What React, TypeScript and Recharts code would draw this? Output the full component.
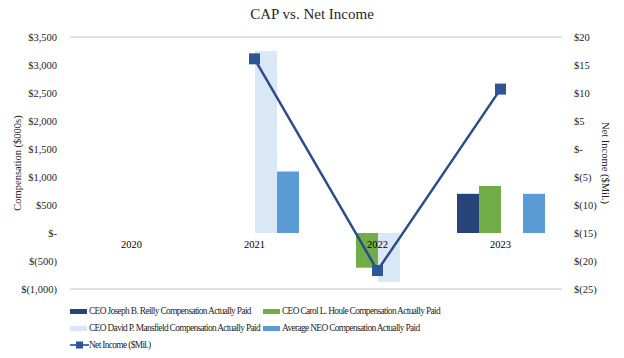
import React from 'react'
import { Bar, ComposedChart, Line, CartesianGrid, XAxis, YAxis, Label, LabelList } from 'recharts'

const years = ['2020', '2021', '2022', '2023']
const reillyCap = [null, null, null, 700]
const houleCap = [null, null, -620, 840]
const mansfieldCap = [null, 3250, -870, null]
const avgNeoCap = [null, 1100, null, 700]
const netIncome = [null, 16.1, -21.7, 10.7]

const compTicks = [-1000, -500, 0, 500, 1000, 1500, 2000, 2500, 3000, 3500]
const incomeTicks = [-25, -20, -15, -10, -5, 0, 5, 10, 15, 20]

const data = years.map((year, i) => ({
  year,
  reilly: reillyCap[i],
  houle: houleCap[i],
  mansfield: mansfieldCap[i],
  avgNeo: avgNeoCap[i],
  netIncome: netIncome[i],
}))

const W = 624
const H = 358
const TOP = 37
const BOTTOM = 69

const FONT = 'Liberation Serif, Times New Roman, serif'
const INK = '#262626'

const money = (v: number, sep = true) => {
  if (v === 0) return '$-'
  const s = sep ? Math.abs(v).toLocaleString('en-US') : String(Math.abs(v))
  return v < 0 ? `$(${s})` : `$${s}`
}

const SquareDot = ({ cx, cy, value }: any) => {
  if (value == null || cx == null) return null
  return <rect x={cx - 5.5} y={cy - 5.5} width={11} height={11} fill="#2F5597" />
}

const legendItems = [
  { label: 'CEO Joseph B. Reilly Compensation Actually Paid', color: '#264478', kind: 'bar' },
  { label: 'CEO Carol L. Houle Compensation Actually Paid', color: '#70AD47', kind: 'bar' },
  { label: 'CEO David P. Mansfield Compensation Actually Paid', color: '#DAE7F6', kind: 'bar' },
  { label: 'Average NEO Compensation Actually Paid', color: '#5B9BD5', kind: 'bar' },
  { label: 'Net Income ($Mil.)', color: '#2F4B8C', kind: 'line' },
]

function ChartLegend() {
  return (
    <div style={{ position: 'absolute', left: 70, top: 304, width: 480, display: 'flex', flexWrap: 'wrap', rowGap: 3, fontFamily: FONT, fontSize: 9.4, color: INK }}>
      {legendItems.map((item, i) => (
        <div key={item.label} style={{ display: 'flex', alignItems: 'center', height: 14, width: i % 2 === 0 ? 193 : 'auto' }}>
          {item.kind === 'bar' ? (
            <span style={{ display: 'inline-block', flexShrink: 0, width: 17, height: 5, background: item.color, marginRight: 2 }} />
          ) : (
            <svg width={19} height={8} style={{ flexShrink: 0 }}>
              <line x1={0} y1={4} x2={19} y2={4} stroke="#4472C4" strokeWidth={2} />
              <rect x={6} y={0.5} width={7} height={7} fill="#2F5597" />
            </svg>
          )}
          <span style={{ whiteSpace: 'nowrap', letterSpacing: -0.65 }}>{item.label}</span>
        </div>
      ))}
    </div>
  )
}

export default function App() {
  return (
    <div style={{ position: 'absolute', left: 0, top: 0, width: W, height: H, background: '#fff', fontFamily: FONT }}>
      <div style={{ position: 'absolute', left: 0, top: 6, width: W, textAlign: 'center', fontSize: 15, color: INK }}>
        CAP vs. Net Income
      </div>
      <ComposedChart width={W} height={H} data={data} barSize={22} barGap={0}
        margin={{ top: TOP, right: 0, bottom: BOTTOM, left: 0 }}
        style={{ position: 'absolute', left: 0, top: 0 }}>
        <CartesianGrid vertical={false} stroke="#d9d9d9" strokeWidth={1.5} />
        <XAxis dataKey="year" height={0} axisLine={false} tickLine={false} tick={false} />
        <YAxis yAxisId="comp" width={70} domain={[-1000, 3500]} ticks={compTicks} interval={0}
          axisLine={false} tickLine={false} tickFormatter={(v: number) => money(v)}
          tick={{ fontSize: 10.5, fill: INK, fontFamily: FONT }} tickMargin={7}>
          <Label value="Compensation ($000s)" angle={-90} position="insideLeft" offset={17}
            style={{ fontSize: 10.5, fill: INK, fontFamily: FONT, textAnchor: 'middle' }} />
        </YAxis>
        <YAxis yAxisId="income" orientation="right" width={62} domain={[-25, 20]} ticks={incomeTicks} interval={0}
          axisLine={false} tickLine={false} tickFormatter={(v: number) => money(v, false)}
          tick={{ fontSize: 10.5, fill: INK, fontFamily: FONT }} tickMargin={6}>
          <Label value="Net Income ($Mil.)" angle={90} position="insideRight" offset={18}
            style={{ fontSize: 10.5, fill: INK, fontFamily: FONT, textAnchor: 'middle' }} />
        </YAxis>
        <Bar yAxisId="comp" dataKey="reilly" fill="#264478" isAnimationActive={false} />
        <Bar yAxisId="comp" dataKey="houle" fill="#70AD47" isAnimationActive={false} />
        <Bar yAxisId="comp" dataKey="mansfield" fill="#DAE7F6" isAnimationActive={false} />
        <Bar yAxisId="comp" dataKey="avgNeo" fill="#5B9BD5" isAnimationActive={false} />
        {/* year labels ride on the zero line, drawn above the bars */}
        <Line yAxisId="comp" dataKey={() => 0} stroke="none" dot={false} activeDot={false}
          legendType="none" isAnimationActive={false}>
          <LabelList dataKey="year" position="bottom" offset={8} fontSize={10.5} fill="#000" fontFamily={FONT} />
        </Line>
        <Line yAxisId="income" type="linear" dataKey="netIncome" stroke="#2F4B8C" strokeWidth={2.5}
          dot={<SquareDot />} activeDot={false} isAnimationActive={false} />
      </ComposedChart>
      <ChartLegend />
    </div>
  )
}
